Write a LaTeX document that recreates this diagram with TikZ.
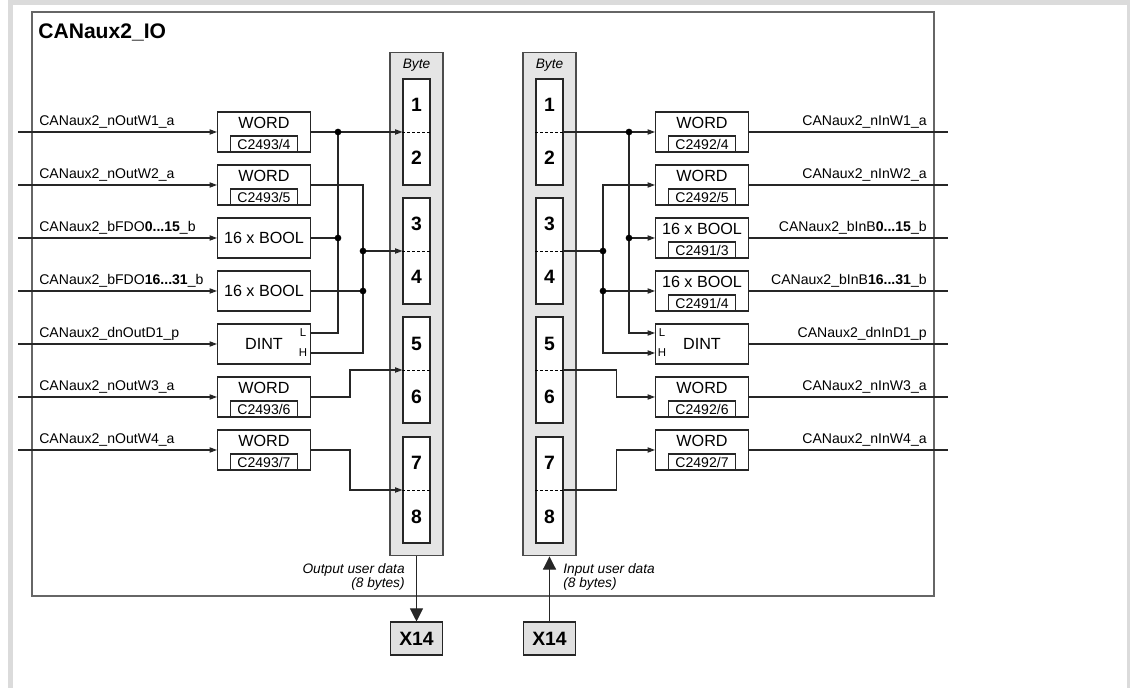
\documentclass[tikz,border=0pt]{standalone}
\usepackage{fontspec}
\setmainfont{Liberation Sans}
\usetikzlibrary{positioning, arrows.meta}

\begin{document}
\begin{tikzpicture}[
  x=0.02cm, y=-0.02cm,
  font=\fontsize{8}{9.6}\selectfont,
  wire/.style={line width=0.6pt, draw=black!85},
  arr/.style={wire, -{Triangle[length=4.2pt, width=3pt]}},
  bigarr/.style={wire, -{Triangle[length=7.5pt, width=7.5pt]}},
  blk/.style={draw=black!85, line width=0.6pt, fill=white, minimum width=1.86cm, minimum height=0.8cm, inner sep=0pt, font=\fontsize{9.2}{11}\selectfont},
  wblk/.style={blk, text depth=10.8pt},
  reg/.style={draw=black!85, line width=0.6pt, anchor=south, minimum width=1.34cm, minimum height=0.32cm, inner sep=0pt, font=\fontsize{8}{9.6}\selectfont},
  lh/.style={inner sep=0pt, font=\fontsize{6.5}{7.8}\selectfont},
  sigl/.style={anchor=base west, inner sep=0pt},
  sigr/.style={anchor=base east, inner sep=0pt},
  bytecol/.style={draw=black!70, line width=0.6pt, fill=black!10, minimum width=1.06cm, minimum height=10.08cm},
  bytepair/.style={draw=black!85, line width=0.6pt, fill=white, minimum width=0.54cm, minimum height=2.12cm},
  num/.style={font=\fontsize{11}{13.2}\selectfont\bfseries, inner sep=0pt},
  half/.style={line width=0.5pt, dash pattern=on 1.6pt off 1.2pt},
  note/.style={font=\fontsize{7.8}{8}\selectfont\itshape, inner sep=0pt},
  conn/.style={draw=black!85, line width=0.6pt, fill=black!12, minimum width=1.04cm, minimum height=0.66cm, font=\fontsize{11}{13}\selectfont\bfseries}
]
% --- frame ---
\useasboundingbox (0,0) rectangle (1130,688);
\draw[black!14, line width=0.09cm] (10.3,688) -- (10.3,2.3) -- (1129,2.3) -- (1129,688);
\draw[black!60, line width=0.8pt] (32,12) rectangle (934,596);
\node[anchor=base west, inner sep=0pt, font=\fontsize{12}{14.4}\selectfont\bfseries] (title) at (38,39) {CANaux2\_IO};

% --- byte columns ---
\node[bytecol] (colL) at (416.5,304) {};
\node[bytecol] (colR) at (549.5,304) {};
\node[note] (byteL) at (416.5,65) {Byte};
\node[note] (byteR) at (549.5,65) {Byte};

\node[bytepair] (bL12) at (416.5,132) {};
\node[bytepair] (bL34) at (416.5,251) {};
\node[bytepair] (bL56) at (416.5,370) {};
\node[bytepair] (bL78) at (416.5,490) {};
\node[bytepair] (bR12) at (549.5,132) {};
\node[bytepair] (bR34) at (549.5,251) {};
\node[bytepair] (bR56) at (549.5,370) {};
\node[bytepair] (bR78) at (549.5,490) {};

\draw[half] (bL12.west) -- (bL12.east);
\draw[half] (bL34.west) -- (bL34.east);
\draw[half] (bL56.west) -- (bL56.east);
\draw[half] (bL78.west) -- (bL78.east);
\draw[half] (bR12.west) -- (bR12.east);
\draw[half] (bR34.west) -- (bR34.east);
\draw[half] (bR56.west) -- (bR56.east);
\draw[half] (bR78.west) -- (bR78.east);

\node[num] (nL1) at (416.5,105) {1};
\node[num] (nL2) at (416.5,158) {2};
\node[num] (nL3) at (416.5,224) {3};
\node[num] (nL4) at (416.5,277) {4};
\node[num] (nL5) at (416.5,344) {5};
\node[num] (nL6) at (416.5,397) {6};
\node[num] (nL7) at (416.5,463) {7};
\node[num] (nL8) at (416.5,517) {8};
\node[num] (nR1) at (549.5,105) {1};
\node[num] (nR2) at (549.5,158) {2};
\node[num] (nR3) at (549.5,224) {3};
\node[num] (nR4) at (549.5,277) {4};
\node[num] (nR5) at (549.5,344) {5};
\node[num] (nR6) at (549.5,397) {6};
\node[num] (nR7) at (549.5,463) {7};
\node[num] (nR8) at (549.5,517) {8};

% --- output side (left) ---
\node[wblk] (outW1)  at (264,132) {WORD};      \node[reg] (cW1) at (outW1.south) {C2493/4};
\node[wblk] (outW2)  at (264,185) {WORD};      \node[reg] (cW2) at (outW2.south) {C2493/5};
\node[blk]  (outB0)  at (264,238) {16 x BOOL};
\node[blk]  (outB16) at (264,291) {16 x BOOL};
\node[blk]  (outD1)  at (264,344) {DINT};
\node[lh]   (odL)    at (303,333) {L};
\node[lh]   (odH)    at (303,353) {H};
\node[wblk] (outW3)  at (264,397) {WORD};      \node[reg] (cW3) at (outW3.south) {C2493/6};
\node[wblk] (outW4)  at (264,450) {WORD};      \node[reg] (cW4) at (outW4.south) {C2493/7};

\coordinate (iW1)  at (18,132);
\coordinate (iW2)  at (18,185);
\coordinate (iB0)  at (18,238);
\coordinate (iB16) at (18,291);
\coordinate (iD1)  at (18,344);
\coordinate (iW3)  at (18,397);
\coordinate (iW4)  at (18,450);
\draw[arr] (iW1) -- (outW1);
\draw[arr] (iW2) -- (outW2);
\draw[arr] (iB0) -- (outB0);
\draw[arr] (iB16) -- (outB16);
\draw[arr] (iD1) -- (outD1);
\draw[arr] (iW3) -- (outW3);
\draw[arr] (iW4) -- (outW4);

\node[sigl] (lW1)  at (39,125.5) {CANaux2\_nOutW1\_a};
\node[sigl] (lW2)  at (39,178.5) {CANaux2\_nOutW2\_a};
\node[sigl] (lB0)  at (39,231.5) {CANaux2\_bFDO\textbf{0...15}\_b};
\node[sigl] (lB16) at (39,284.5) {CANaux2\_bFDO\textbf{16...31}\_b};
\node[sigl] (lD1)  at (39,337.5) {CANaux2\_dnOutD1\_p};
\node[sigl] (lW3)  at (39,390.5) {CANaux2\_nOutW3\_a};
\node[sigl] (lW4)  at (39,443.5) {CANaux2\_nOutW4\_a};

% mapping into the output bytes
\coordinate (jA) at (338,132);
\coordinate (jB) at (363,251);
\draw[arr] (outW1) -- (bL12.west);
\draw[wire] (outD1.east |- odL) -| (jA);
\draw[wire] (outB0) -- (outB0 -| jA);
\draw[wire] (outW2.east) -| (jB) |- (outD1.east |- odH);
\draw[arr] (jB) -- (bL34.west);
\draw[wire] (outB16) -- (outB16 -| jB);
\draw[arr] (outW3.east) -- ++(39,0) |- (bL56.west);
\draw[arr] (outW4.east) -- ++(39,0) |- (bL78.west);
\fill (jA) circle[radius=1.9pt];
\fill (outB0 -| jA) circle[radius=1.9pt];
\fill (jB) circle[radius=1.9pt];
\fill (outB16 -| jB) circle[radius=1.9pt];

% --- input side (right) ---
\node[wblk] (inW1)  at (702,132) {WORD};      \node[reg] (rW1)  at (inW1.south)  {C2492/4};
\node[wblk] (inW2)  at (702,185) {WORD};      \node[reg] (rW2)  at (inW2.south)  {C2492/5};
\node[wblk] (inB0)  at (702,238) {16 x BOOL}; \node[reg] (rB0)  at (inB0.south)  {C2491/3};
\node[wblk] (inB16) at (702,291) {16 x BOOL}; \node[reg] (rB16) at (inB16.south) {C2491/4};
\node[blk]  (inD1)  at (702,344) {DINT};
\node[lh]   (idL)   at (662,333) {L};
\node[lh]   (idH)   at (662,353) {H};
\node[wblk] (inW3)  at (702,397) {WORD};      \node[reg] (rW3)  at (inW3.south)  {C2492/6};
\node[wblk] (inW4)  at (702,450) {WORD};      \node[reg] (rW4)  at (inW4.south)  {C2492/7};

\coordinate (jC) at (629,132);
\coordinate (jD) at (603,251);
\draw[arr] (bR12.east) -- (inW1.west);
\draw[arr] (jC) |- (inD1.west |- idL);
\draw[arr] (inB0 -| jC) -- (inB0.west);
\draw[wire] (bR34.east) -- (jD);
\draw[arr] (jD) |- (inW2.west);
\draw[arr] (jD) |- (inD1.west |- idH);
\draw[arr] (inB16 -| jD) -- (inB16.west);
\draw[arr] (bR56.east) -- ++(53,0) |- (inW3.west);
\draw[arr] (bR78.east) -- ++(53,0) |- (inW4.west);
\fill (jC) circle[radius=1.9pt];
\fill (inB0 -| jC) circle[radius=1.9pt];
\fill (jD) circle[radius=1.9pt];
\fill (inB16 -| jD) circle[radius=1.9pt];

\coordinate (eW1)  at (948,132);
\coordinate (eW2)  at (948,185);
\coordinate (eB0)  at (948,238);
\coordinate (eB16) at (948,291);
\coordinate (eD1)  at (948,344);
\coordinate (eW3)  at (948,397);
\coordinate (eW4)  at (948,450);
\draw[wire] (inW1) -- (eW1);
\draw[wire] (inW2) -- (eW2);
\draw[wire] (inB0) -- (eB0);
\draw[wire] (inB16) -- (eB16);
\draw[wire] (inD1) -- (eD1);
\draw[wire] (inW3) -- (eW3);
\draw[wire] (inW4) -- (eW4);

\node[sigr] (rlW1)  at (927,125.5) {CANaux2\_nInW1\_a};
\node[sigr] (rlW2)  at (927,178.5) {CANaux2\_nInW2\_a};
\node[sigr] (rlB0)  at (927,231.5) {CANaux2\_bInB\textbf{0...15}\_b};
\node[sigr] (rlB16) at (927,284.5) {CANaux2\_bInB\textbf{16...31}\_b};
\node[sigr] (rlD1)  at (927,337.5) {CANaux2\_dnInD1\_p};
\node[sigr] (rlW3)  at (927,390.5) {CANaux2\_nInW3\_a};
\node[sigr] (rlW4)  at (927,443.5) {CANaux2\_nInW4\_a};

% --- X14 connectors ---
\node[conn] (x14o) at (416.5,638.5) {X14};
\node[conn] (x14i) at (549.5,638.5) {X14};
\draw[bigarr] (colL) -- (x14o);
\draw[bigarr] (x14i) -- (colR);
\node[note, anchor=north east, align=right] (outnote) at (405,563.5) {Output user data\\(8 bytes)};
\node[note, anchor=north west, align=left] (innote) at (563,563.5) {Input user data\\(8 bytes)};
\end{tikzpicture}
\end{document}
